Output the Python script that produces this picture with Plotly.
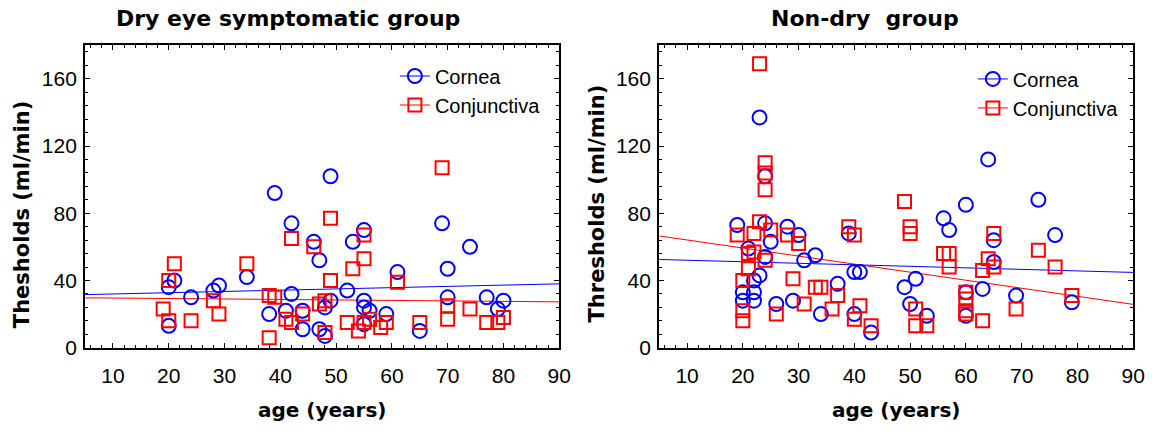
import plotly.graph_objects as go

# ---------------- data ----------------
dry_cornea_age = [21, 20, 20, 24, 28, 29, 34, 39, 38, 42, 42, 41, 44, 44, 46, 47, 47, 49, 48, 48,
                  49, 52, 53, 55, 55, 55, 56, 55, 59, 61, 65, 69, 70, 70, 74, 77, 79, 80]
dry_cornea_thr = [40, 36, 13, 30, 34, 37, 42, 92, 20, 74, 32, 22, 22, 11, 63, 52, 11, 102, 7, 24,
                  28, 34, 63, 70, 28, 24, 22, 14, 20, 45, 10, 74, 47, 30, 60, 30, 23, 28]

dry_conj_age = [21, 20, 19, 20, 24, 28, 29, 34, 38, 39, 38, 42, 41, 42, 44, 46, 47, 48, 48, 49,
                49, 53, 55, 55, 52, 54, 55, 56, 58, 59, 61, 65, 69, 70, 70, 74, 77, 79, 80]
dry_conj_thr = [50, 40, 23, 16, 16, 28, 20, 50, 31, 30, 6, 65, 17, 15, 20, 60, 26, 28, 9, 77,
                40, 47, 67, 53, 15, 10, 15, 17, 12, 15, 39, 15, 107, 25, 17, 23, 15, 15, 18]

non_cornea_age = [23, 24, 19, 24, 25, 28, 30, 21, 24, 31, 33, 23, 22, 20, 22, 20, 22, 26, 29, 34,
                  37, 39, 40, 41, 40, 43, 49, 51, 50, 53, 56, 57, 60, 60, 60, 63, 64, 65, 65, 69,
                  73, 76, 79]
non_cornea_thr = [137, 102, 73, 74, 63, 72, 67, 59, 54, 52, 55, 43, 40, 33, 33, 28, 28, 26, 28, 20,
                  38, 68, 45, 45, 20, 9, 36, 41, 26, 19, 77, 70, 85, 33, 19, 35, 112, 64, 51, 31,
                  88, 67, 27]

non_conj_age = [23, 24, 24, 24, 23, 19, 22, 25, 28, 30, 21, 22, 24, 21, 20, 29, 33, 34, 37, 36,
                31, 26, 20, 20, 39, 40, 41, 40, 43, 49, 50, 50, 51, 51, 53, 56, 57, 57, 60, 60,
                60, 60, 63, 63, 64, 65, 65, 69, 73, 76, 79]
non_conj_thr = [169, 110, 104, 94, 75, 67, 68, 70, 67, 62, 56, 57, 52, 47, 40, 41, 36, 36, 31, 23,
                26, 20, 22, 16, 72, 67, 25, 17, 13, 87, 72, 68, 23, 13, 13, 56, 56, 48, 33, 29,
                22, 20, 16, 46, 53, 68, 48, 23, 58, 48, 31]

# regression lines (end values)
fit_age = [5, 90]
dry_cornea_fit = [31.6, 38.0]
dry_conj_fit = [29.7, 27.3]
non_cornea_fit = [52.5, 44.8]
non_conj_fit = [66.5, 25.8]

x_tick_vals = [10, 20, 30, 40, 50, 60, 70, 80, 90]
x_tick_text = ["10", "20", "30", "40", "50", "60", "70", "80", "90"]
y_tick_vals = [0, 40, 80, 120, 160]
y_tick_text = ["0", "40", "80", "120", "160"]

titles = ["Dry eye symptomatic group", "Non-dry  group"]
y_titles = ["Thesholds (ml/min)", "Thresholds (ml/min)"]
x_title = "age (years)"
series_names = ["Cornea", "Conjunctiva"]

# ---------------- styling ----------------
BLUE = "#0000FF"
RED = "#FF0000"
TICK_FONT = dict(family="Liberation Sans, Arial, sans-serif", size=21, color="black")
BOLD_FAMILY = "DejaVu Sans, Verdana, sans-serif"
LEG_FONT = dict(family="Liberation Sans, Arial, sans-serif", size=20, color="black")

circle = dict(symbol="circle-open", size=14, color=BLUE, line=dict(width=2, color=BLUE))
square = dict(symbol="square-open", size=13, color=RED, line=dict(width=2, color=RED))

fig = go.Figure()

panels = [
    ("x", "y", "legend", dry_cornea_age, dry_cornea_thr, dry_conj_age, dry_conj_thr,
     dry_cornea_fit, dry_conj_fit),
    ("x2", "y2", "legend2", non_cornea_age, non_cornea_thr, non_conj_age, non_conj_thr,
     non_cornea_fit, non_conj_fit),
]

for xa, ya, leg, ca, ct, ja, jt, cf, jf in panels:
    fig.add_trace(go.Scatter(x=fit_age, y=cf, mode="lines", line=dict(color=BLUE, width=1),
                             xaxis=xa, yaxis=ya, showlegend=False, hoverinfo="skip"))
    fig.add_trace(go.Scatter(x=fit_age, y=jf, mode="lines", line=dict(color=RED, width=1),
                             xaxis=xa, yaxis=ya, showlegend=False, hoverinfo="skip"))
    fig.add_trace(go.Scatter(x=ca, y=ct, mode="markers", marker=circle,
                             xaxis=xa, yaxis=ya, showlegend=False))
    fig.add_trace(go.Scatter(x=ja, y=jt, mode="markers", marker=square,
                             xaxis=xa, yaxis=ya, showlegend=False))
    # legend entries
    fig.add_trace(go.Scatter(x=[None], y=[None], mode="lines+markers", name=series_names[0],
                             marker=circle, line=dict(color=BLUE, width=1),
                             xaxis=xa, yaxis=ya, legend=leg, showlegend=True))
    fig.add_trace(go.Scatter(x=[None], y=[None], mode="lines+markers", name=series_names[1],
                             marker=square, line=dict(color=RED, width=1),
                             xaxis=xa, yaxis=ya, legend=leg, showlegend=True))

xdoms = [[0.0738, 0.4850], [0.5717, 0.9828]]
ydom = [0.176, 0.893]


def xaxis_style(dom, anchor):
    return dict(domain=dom, anchor=anchor, range=[5, 90], tickmode="array",
                tickvals=x_tick_vals, ticktext=x_tick_text, ticks="inside", ticklen=5,
                tickwidth=1, tickcolor="black", showline=True, linewidth=2, linecolor="black",
                mirror="ticks", showgrid=False, zeroline=False, tickfont=TICK_FONT,
                minor=dict(dtick=2, tick0=0, ticks="inside", ticklen=3, tickwidth=1,
                           tickcolor="black", showgrid=False),
                ticklabelstandoff=8)


def yaxis_style(anchor):
    return dict(domain=ydom, anchor=anchor, range=[0, 180], tickmode="array",
                tickvals=y_tick_vals, ticktext=y_tick_text, ticks="inside", ticklen=5,
                tickwidth=1, tickcolor="black", showline=True, linewidth=2, linecolor="black",
                mirror="ticks", showgrid=False, zeroline=False, tickfont=TICK_FONT,
                minor=dict(dtick=8, tick0=0, ticks="inside", ticklen=3, tickwidth=1,
                           tickcolor="black", showgrid=False),
                ticklabelstandoff=2)


annotations = []
title_centers = [0.25, 0.75]
for i in range(2):
    cx = (xdoms[i][0] + xdoms[i][1]) / 2
    annotations.append(dict(text="<b>%s</b>" % titles[i], x=title_centers[i], y=1 - 19 / 433,
                            xref="paper", yref="paper", showarrow=False, xanchor="center",
                            yanchor="middle",
                            font=dict(family=BOLD_FAMILY, size=22, color="black")))
    annotations.append(dict(text="<b>%s</b>" % x_title, x=cx, y=1 - 421 / 433, xref="paper",
                            yref="paper", showarrow=False, xanchor="center", yanchor="middle",
                            font=dict(family=BOLD_FAMILY, size=20, color="black")))
annotations.append(dict(text="<b>%s</b>" % y_titles[0], x=23 / 1165, y=1 - 220 / 433,
                        xref="paper", yref="paper", showarrow=False, textangle=-90,
                        xanchor="center", yanchor="middle",
                        font=dict(family=BOLD_FAMILY, size=21, color="black")))
annotations.append(dict(text="<b>%s</b>" % y_titles[1], x=603 / 1165, y=1 - 209 / 433,
                        xref="paper", yref="paper", showarrow=False, textangle=-90,
                        xanchor="center", yanchor="middle",
                        font=dict(family=BOLD_FAMILY, size=21, color="black")))

fig.update_layout(
    width=1165, height=433,
    margin=dict(l=0, r=0, t=0, b=0),
    paper_bgcolor="white", plot_bgcolor="white",
    xaxis=xaxis_style(xdoms[0], "y"),
    yaxis=yaxis_style("x"),
    xaxis2=xaxis_style(xdoms[1], "y2"),
    yaxis2=yaxis_style("x2"),
    legend=dict(x=399 / 1165, y=1 - 58 / 433, xanchor="left", yanchor="top",
                bgcolor="rgba(0,0,0,0)", font=LEG_FONT, tracegroupgap=0, itemwidth=30),
    legend2=dict(x=983 / 1165, y=1 - 61 / 433, xanchor="left", yanchor="top",
                 bgcolor="rgba(0,0,0,0)", font=LEG_FONT, tracegroupgap=0, itemwidth=30),
    annotations=annotations,
    showlegend=True,
)

fig.write_html("out.html")
